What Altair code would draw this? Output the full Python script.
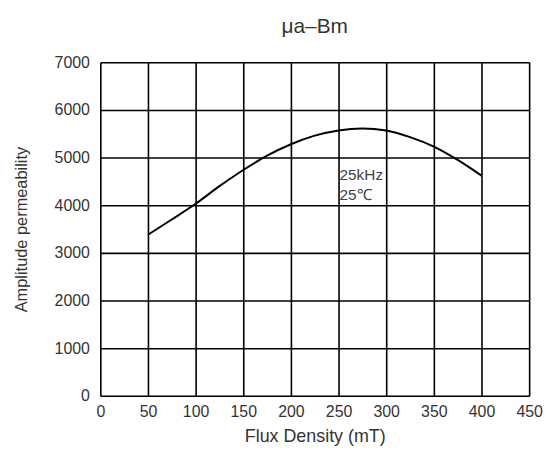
import altair as alt
import pandas as pd

flux = [50, 75, 100, 125, 150, 175, 200, 225, 250, 275, 300, 325, 350, 375, 400]
perm = [3380, 3700, 4030, 4400, 4740, 5040, 5280, 5460, 5570, 5610, 5570, 5430, 5230, 4950, 4620]

note_x = [251, 251]
note_y = [4640, 4220]
note_text = ["25kHz", "25\u2103"]

df = pd.DataFrame({"flux": flux, "perm": perm})
notes = pd.DataFrame({"x": note_x, "y": note_y, "t": note_text})

FONT = "Liberation Sans"

xs = alt.Scale(domain=[0, 450], nice=False, zero=True)
ys = alt.Scale(domain=[0, 7000], nice=False)

line = alt.Chart(df).mark_line(color="black", strokeWidth=2, interpolate="monotone").encode(
    x=alt.X("flux:Q", scale=xs, title="Flux Density (mT)",
            axis=alt.Axis(values=list(range(0, 451, 50)), format="d", grid=True, gridColor="black",
                          gridWidth=1.6, gridOpacity=1, ticks=False, domain=False,
                          labelFlush=False, labelOverlap=False, labelBound=False,
                          labelPadding=8, titlePadding=8, labelFontSize=16, titleFontSize=18,
                          labelFont=FONT, titleFont=FONT, labelColor="#333", titleColor="#333",
                          titleFontWeight="normal")),
    y=alt.Y("perm:Q", scale=ys, title="Amplitude permeability",
            axis=alt.Axis(values=list(range(0, 7001, 1000)), format="d", grid=True, gridColor="black",
                          gridWidth=1.6, gridOpacity=1, ticks=False, domain=False,
                          labelFlush=False, labelOverlap=False, labelBound=False,
                          labelPadding=11, titlePadding=25, labelFontSize=16, titleFontSize=16.5,
                          labelFont=FONT, titleFont=FONT, labelColor="#333", titleColor="#333",
                          titleFontWeight="normal")),
)

text = alt.Chart(notes).mark_text(align="left", baseline="middle", fontSize=15.5, font=FONT,
                                  color="#444").encode(
    x=alt.X("x:Q", scale=xs), y=alt.Y("y:Q", scale=ys), text="t:N")

chart = (line + text).properties(
    width=432, height=336,
    title=alt.TitleParams("\u03bca\u2013Bm", font=FONT, fontSize=21, fontWeight="normal",
                          color="#333", offset=18, anchor="middle"),
    autosize=alt.AutoSizeParams(type="none"),
    padding={"left": 93, "top": 53, "right": 20, "bottom": 68},
).configure_view(stroke="black", strokeWidth=2).configure(background="white")

chart.save("out.html", embed_options={"renderer": "svg", "actions": False})
